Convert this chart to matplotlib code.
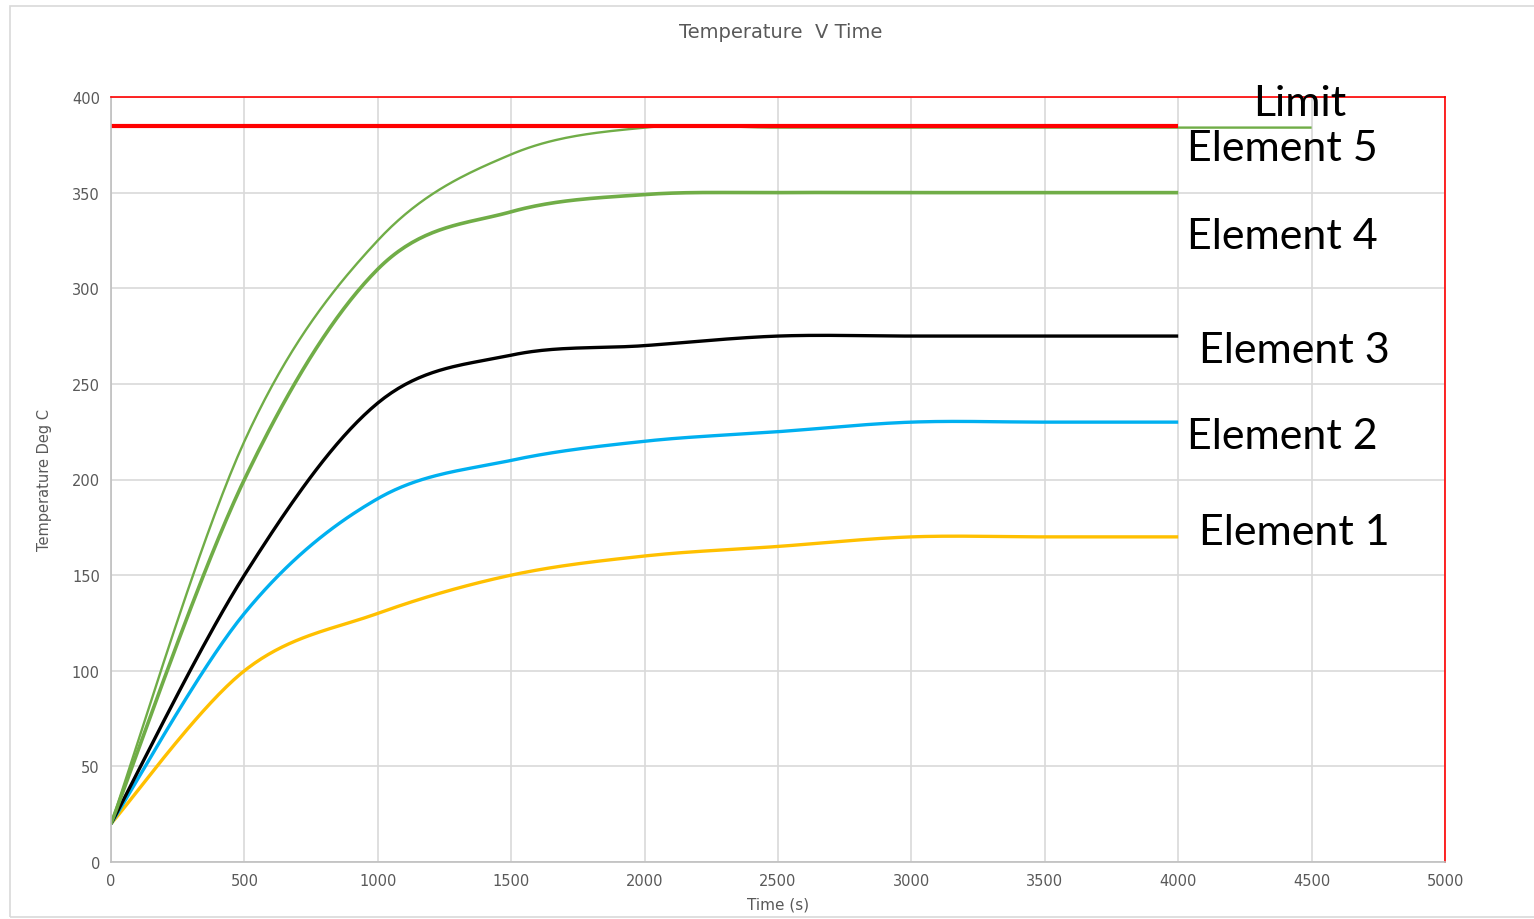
import numpy as np
import matplotlib
matplotlib.use("Agg")
import matplotlib.pyplot as plt
from matplotlib.patches import Rectangle

# ---- data ----
time = [0, 500, 1000, 1500, 2000, 2500, 3000, 3500, 4000]
time5 = [0, 500, 1000, 1500, 2000, 2500, 3000, 3500, 4000, 4500]
element1 = [20, 100, 130, 150, 160, 165, 170, 170, 170]
element2 = [20, 130, 190, 210, 220, 225, 230, 230, 230]
element3 = [20, 150, 240, 265, 270, 275, 275, 275, 275]
element4 = [20, 200, 310, 340, 349, 350, 350, 350, 350]
element5 = [20, 220, 325, 370, 384, 384, 384, 384, 384, 384]
limit_time = [0, 4000]
limit_value = [385, 385]
labels = ["Limit", "Element 5", "Element 4", "Element 3", "Element 2", "Element 1"]
xticks = [0, 500, 1000, 1500, 2000, 2500, 3000, 3500, 4000, 4500, 5000]
yticks = [0, 50, 100, 150, 200, 250, 300, 350, 400]


def smooth(x, y, n=40):
    """Excel-like smoothed line: cubic Bezier through the points."""
    P = np.column_stack([x, y]).astype(float)
    out = [P[0]]
    t = np.linspace(0, 1, n)[1:, None]
    for i in range(len(P) - 1):
        p0 = P[i - 1] if i > 0 else P[i]
        p1, p2 = P[i], P[i + 1]
        p3 = P[i + 2] if i + 2 < len(P) else P[i + 1]
        c1 = p1 + (p2 - p0) / 6
        c2 = p2 - (p3 - p1) / 6
        seg = ((1 - t) ** 3) * p1 + 3 * ((1 - t) ** 2) * t * c1 + 3 * (1 - t) * t ** 2 * c2 + t ** 3 * p2
        out.extend(seg)
    out = np.array(out)
    return out[:, 0], out[:, 1]


fig = plt.figure(figsize=(15.34, 9.2), dpi=100)
W, H = 1534, 920
ax = fig.add_axes([111 / W, 1 - 863 / H, (1445 - 111) / W, (863 - 98) / H])

# outer chart border
fig.patches.append(Rectangle((10 / W, 1 - 918 / H), 1540 / W, (918 - 7) / H,
                             transform=fig.transFigure, fill=False,
                             edgecolor="#d9d9d9", linewidth=1.2))

ax.set_xlim(0, 5000)
ax.set_ylim(0, 400)
ax.set_xticks(xticks)
ax.set_yticks(yticks)
ax.grid(True, color="#d9d9d9", linewidth=1.2)
ax.set_axisbelow(True)
ax.tick_params(length=0, labelsize=10.5, colors="#595959", pad=8)
for s in ["left", "bottom"]:
    ax.spines[s].set_color("#bfbfbf")
    ax.spines[s].set_linewidth(1.2)
for s in ["top", "right"]:
    ax.spines[s].set_color("#ff0000")
    ax.spines[s].set_linewidth(1.2)

ax.plot(*smooth(time, element1), color="#ffc000", lw=2.4, solid_capstyle="butt")
ax.plot(*smooth(time, element2), color="#00b0f0", lw=2.4, solid_capstyle="butt")
ax.plot(*smooth(time, element3), color="#000000", lw=2.4, solid_capstyle="butt")
ax.plot(*smooth(time, element4), color="#70ad47", lw=2.6, solid_capstyle="butt")
ax.plot(*smooth(time5, element5), color="#70ad47", lw=1.7, solid_capstyle="butt")
ax.plot(limit_time, limit_value, color="#ff0000", lw=3.0, solid_capstyle="butt")

fig.text(781 / W, 1 - 33 / H, "Temperature  V Time", ha="center", va="center",
         fontsize=14, color="#595959")
ax.set_xlabel("Time (s)", fontsize=11, color="#595959", labelpad=6)
ax.set_ylabel("Temperature Deg C", fontsize=10.5, color="#595959", labelpad=14)

fam = ["Lato", "DejaVu Sans"]
fs = 31
# label positions in figure pixels
pos = [(1300, 104, "center"), (1187, 149, "left"), (1187, 237, "left"),
       (1199, 351, "left"), (1187, 437, "left"), (1199, 533, "left")]
for lab, (px, py, ha) in zip(labels, pos):
    fig.text(px / W, 1 - py / H, lab, ha=ha, va="center", fontsize=fs,
             family=fam, color="black")

fig.savefig("out.png", dpi=100)
